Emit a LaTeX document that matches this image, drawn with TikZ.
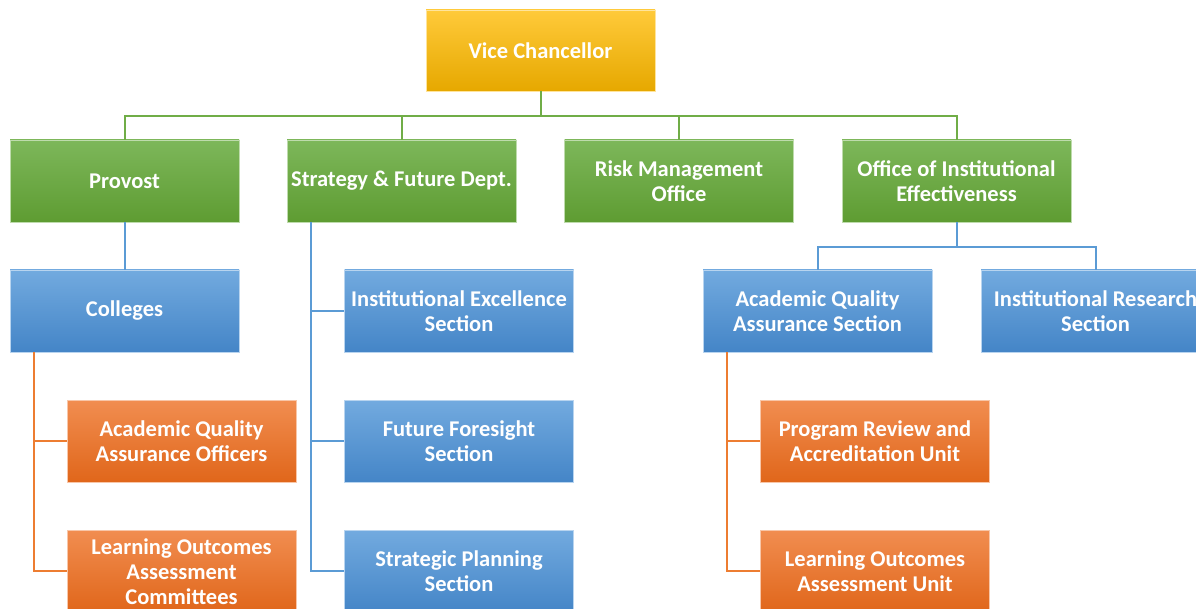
\documentclass[tikz,border=0pt]{standalone}
\usepackage{fontspec}
\setmainfont{Carlito}
\usepackage{xcolor}
\usetikzlibrary{calc}

\definecolor{goldtop}{HTML}{FFCA3A}
\definecolor{goldbot}{HTML}{E6A800}
\definecolor{greentop}{HTML}{7DB75A}
\definecolor{greenbot}{HTML}{5E9C32}
\definecolor{bluetop}{HTML}{72AADF}
\definecolor{bluebot}{HTML}{4485C7}
\definecolor{orangetop}{HTML}{F18D50}
\definecolor{orangebot}{HTML}{E0661A}
\definecolor{greenln}{HTML}{70AD47}
\definecolor{blueln}{HTML}{5B9BD5}
\definecolor{orangeln}{HTML}{ED7D31}

\begin{document}
\begin{tikzpicture}[x=1pt, y=1pt,
	box/.style={minimum width=229pt, minimum height=82pt, inner sep=0pt, align=center, text=white, line width=0.8pt, font=\fontsize{22.5}{25}\selectfont\bfseries},
	goldbox/.style={box, top color=goldtop, bottom color=goldbot, draw=goldtop!50!white},
	greenbox/.style={box, top color=greentop, bottom color=greenbot, draw=greentop!50!white},
	bluebox/.style={box, top color=bluetop, bottom color=bluebot, draw=bluetop!50!white},
	orangebox/.style={box, top color=orangetop, bottom color=orangebot, draw=orangetop!50!white},
	greenline/.style={draw=greenln, line width=2pt},
	blueline/.style={draw=blueln, line width=2pt},
	orangeline/.style={draw=orangeln, line width=2pt}]
	\useasboundingbox (0,0) rectangle (1196,609);
	\clip (0,0) rectangle (1196,609);
	\fill[white] (0,0) rectangle (1196,609);
	\node [goldbox, minimum height=81pt] (vc) at (540.5,558.5) {Vice Chancellor};
	\node [greenbox] (prov) at (124.5,428) {Provost};
	\node [greenbox] (strat) at (401.5,428) {Strategy \& Future Dept.};
	\node [greenbox] (risk) at (679,428) {Risk Management\\Office};
	\node [greenbox] (oie) at (956.5,428) {Office of Institutional\\Effectiveness};
	\node [bluebox] (coll) at (124.5,298) {Colleges};
	\node [bluebox] (ise) at (459,298) {Institutional Excellence\\Section};
	\node [bluebox] (ffs) at (459,167.5) {Future Foresight\\Section};
	\node [bluebox] (sps) at (459,37.5) {Strategic Planning\\Section};
	\node [bluebox] (aqas) at (817.5,298) {Academic Quality\\Assurance Section};
	\node [bluebox] (irs) at (1095.5,298) {Institutional Research\\Section};
	\node [orangebox] (aqao) at (181.5,167.5) {Academic Quality\\Assurance Officers};
	\node [orangebox] (loac) at (181.5,37.5) {Learning Outcomes\\Assessment\\Committees};
	\node [orangebox] (prau) at (875,167.5) {Program Review and\\Accreditation Unit};
	\node [orangebox] (loau) at (875,37.5) {Learning Outcomes\\Assessment Unit};
	\foreach \n in {prov, strat, risk, oie}
		\draw [greenline] (vc.south) -- ++(0,-25) -| (\n.north);
	\draw [blueline] (prov.south) -- (coll.north);
	\foreach \n in {ise, ffs, sps}
		\draw [blueline] ($(strat.south west)+(24,0)$) |- (\n.west);
	\foreach \n in {aqas, irs}
		\draw [blueline] (oie.south) -- ++(0,-24.5) -| (\n.north);
	\foreach \n in {aqao, loac}
		\draw [orangeline] ($(coll.south west)+(24,0)$) |- (\n.west);
	\foreach \n in {prau, loau}
		\draw [orangeline] ($(aqas.south west)+(24,0)$) |- (\n.west);
\end{tikzpicture}
\end{document}
